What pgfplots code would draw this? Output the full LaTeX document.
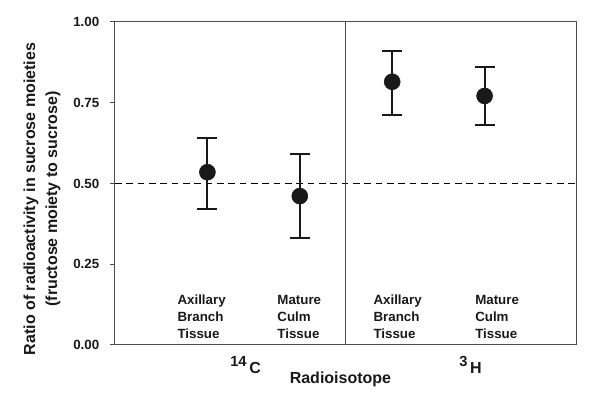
\documentclass[border=0pt]{standalone}
\usepackage{fontspec}
\setmainfont{Liberation Sans}
\usepackage{pgfplots}
\pgfplotsset{compat=1.18}

\definecolor{frame}{gray}{0.30}
\definecolor{ink}{gray}{0.10}

\begin{document}
\begin{tikzpicture}
\path[use as bounding box] (-86.25pt,-43.5pt) rectangle (363.75pt,258.75pt);
\begin{axis}[
  at={(0,0)}, anchor=south west,
  scale only axis,
  width=346.5pt, height=242.25pt,
  xmin=0, xmax=5, ymin=0, ymax=1,
  clip=false,
  xtick=\empty,
  ytick={0,0.25,0.5,0.75,1},
  ytick pos=left,
  tick align=outside,
  major tick length=3.75pt,
  axis line style={frame, line width=0.75pt},
  every tick/.style={frame, line width=0.75pt},
  /pgf/number format/assume math mode=true,
  yticklabel style={/pgf/number format/fixed, /pgf/number format/fixed zerofill,
    /pgf/number format/precision=2, font=\fontsize{10}{12}\selectfont\bfseries,
    text=ink, xshift=-4.5pt},
  ylabel={Ratio of radioactivity in sucrose moieties\\(fructose moiety to sucrose)},
  ylabel style={at={(axis description cs:-0.158,0.452)}, anchor=center,
    align=center, text=ink, font=\fontsize{12}{16.5}\selectfont\bfseries},
]
% reference line at 0.5 and group divider
\addplot[black, line width=0.75pt, dash pattern=on 5pt off 3.5pt] coordinates {(0,0.5) (5,0.5)};
\addplot[frame, line width=0.75pt] coordinates {(2.5,0) (2.5,1)};

\addplot[only marks, mark=*, color=ink, mark size=6pt,
  mark options={line width=0.4pt, fill=ink},
  error bars/.cd, y dir=both, y explicit,
  error bar style={line width=1.5pt, ink},
  error mark options={rotate=90, mark size=7.5pt, line width=1.5pt, ink}]
coordinates {
  (1,0.535) += (0,0.107) -= (0,0.114)
  (2,0.461) += (0,0.130) -= (0,0.130)
  (3,0.815) += (0,0.096) -= (0,0.104)
  (4,0.771) += (0,0.090) -= (0,0.091)
};

\begin{scope}[every node/.style={inner sep=0pt, text=ink, align=left,
    anchor=north west, font=\fontsize{10}{12.75}\selectfont\bfseries}]
\node at (axis cs:0.674,0.156) {Axillary\\Branch\\Tissue};
\node at (axis cs:1.755,0.156) {Mature\\Culm\\Tissue};
\node at (axis cs:2.795,0.156) {Axillary\\Branch\\Tissue};
\node at (axis cs:3.896,0.156) {Mature\\Culm\\Tissue};
\end{scope}

\begin{scope}[every node/.style={inner sep=0pt, text=ink, anchor=base west,
    font=\fontsize{12}{14}\selectfont\bfseries}]
\node at (axis cs:1.245,-0.0867) {\raisebox{5pt}{\fontsize{11}{12}\selectfont 14}\,C};
\node at (axis cs:3.723,-0.0867) {\raisebox{5pt}{\fontsize{11}{12}\selectfont 3}\,H};
\node[anchor=base] at (axis cs:2.44,-0.1186) {Radioisotope};
\end{scope}
\end{axis}
\end{tikzpicture}
\end{document}
